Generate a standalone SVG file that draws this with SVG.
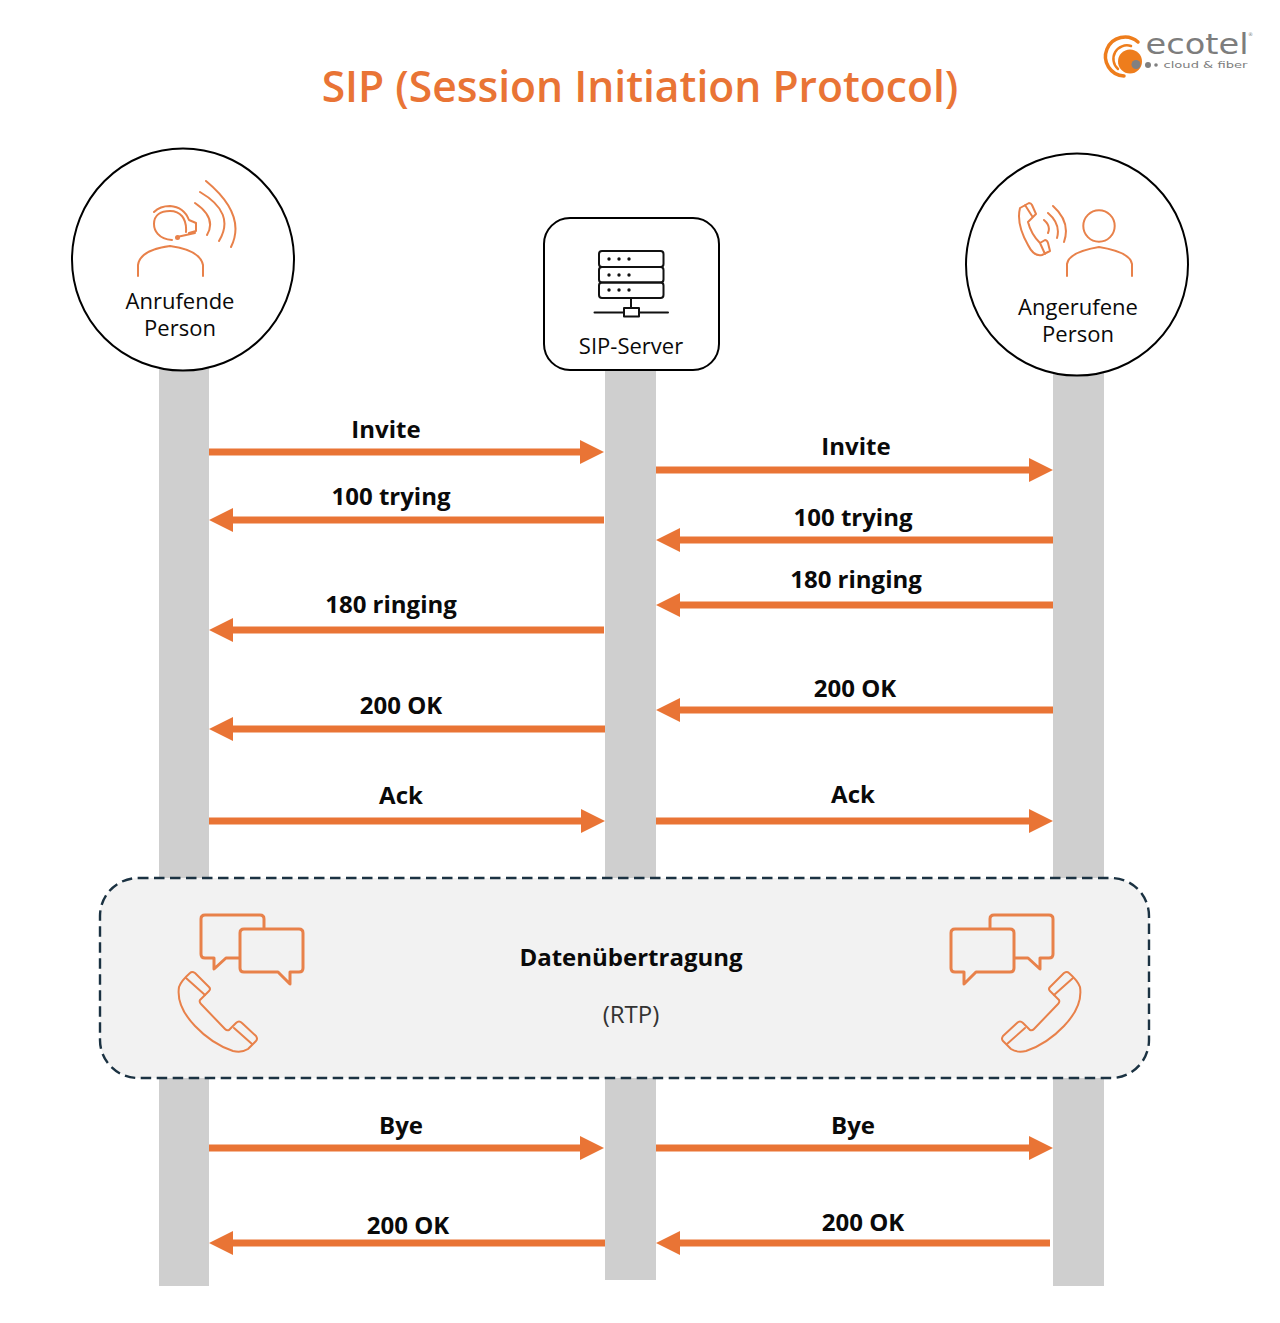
<svg xmlns="http://www.w3.org/2000/svg" width="1280" height="1323" viewBox="0 0 1280 1323">
<style>
text{font-family:"Open Sans","Liberation Sans",sans-serif;text-anchor:middle;fill:#0a0a0a}
.t{font-size:42.600px;font-weight:600;fill:#E97435}
.n{font-size:22px}
.l{font-size:24px;font-weight:700}
.life{fill:#CFCFCF}
.a{stroke:#E97435;stroke-width:7;fill:none}
.i{fill:none;stroke:#E8814A;stroke-width:2;stroke-linecap:round;stroke-linejoin:round}
.b{fill:none;stroke:#E8814A;stroke-width:3;stroke-linejoin:round}
.k{fill:none;stroke:#111;stroke-width:2;stroke-linecap:round;stroke-linejoin:round}
.o{fill:#fff;stroke:#000;stroke-width:2}
.g{font-family:"DejaVu Sans",sans-serif;fill:#7d7d7d}
.r{fill:none;stroke:#EE7D1C;stroke-linecap:round}
</style>
<defs>
<g id="phone"><path class="i" d="M190 973Q192 971 195 973L209 987Q211 989 209 991L200 1000Q199 1002 201 1004L225 1029Q227 1031 229 1030L236 1023Q239 1020 242 1023L256 1036Q258 1039 256 1041L248 1049Q242 1053 233 1051Q212 1044 195 1026Q176 1006 179 987Q181 981 190 973Z"/><path class="i" d="M186 978L205 995M234 1028L252 1044"/></g>
<g id="chat"><path class="b" d="M240 958H226L214 969V958H205Q201 958 201 954V919Q201 915 205 915H260Q264 915 264 919V929"/><path class="b" d="M244 929H299Q303 929 303 933V968Q303 972 299 972H290V984L278 972H244Q240 972 240 968V933Q240 929 244 929Z"/></g>
</defs>
<rect width="1280" height="1323" fill="#fff"/>
<text class="t" x="640" y="102">SIP (Session Initiation Protocol)</text>
<g id="logo">
<path class="r" stroke-width="3.500" d="M1138 42A19.500 19.500 0 1 0 1124 76"/>
<path class="r" stroke-width="2.500" d="M1131 46A13.500 13.500 0 0 0 1118 69"/>
<circle cx="1130" cy="61.500" r="12" fill="#EE7D1C"/>
<circle cx="1136" cy="64.500" r="4.500" fill="#808080"/><circle cx="1148" cy="65" r="3" fill="#808080"/><circle cx="1156" cy="65" r="1.800" fill="#808080"/>
<text class="g" x="1197" y="54" font-size="28" textLength="103" lengthAdjust="spacingAndGlyphs">ecotel</text>
<text class="g" x="1250.500" y="36" font-size="5">®</text>
<text class="g" x="1205.500" y="68" font-size="9.500" textLength="84" lengthAdjust="spacingAndGlyphs">cloud &amp; fiber</text>
</g>
<g id="lifelines">
<rect class="life" x="159" y="365" width="50" height="921"/>
<rect class="life" x="605" y="365" width="51" height="915"/>
<rect class="life" x="1053" y="370" width="51" height="916"/>
</g>
<g id="caller">
<circle class="o" cx="183" cy="259.500" r="111"/>
<path class="i" d="M138 276V265Q140 250 170 246Q200 250 203 265V276M172 240C158 239 154 230 154 224C154 215 161 211 170 211C180 211 187 218 186 232M154 212Q160 206 170 206Q184 207 189 220L196 223V231L189 233M195 233L177 237M195 203Q217 218 207 235M200 192Q236 213 219 241M206 181Q247 215 231 247"/>
<circle cx="177.500" cy="237.500" r="2.500" fill="#E8814A"/>
<text class="n" x="180" y="309">Anrufende</text><text class="n" x="180" y="336">Person</text>
</g>
<g id="server">
<rect class="o" x="544" y="218" width="175" height="152" rx="26"/>
<g class="k"><rect x="599" y="251" width="64.500" height="16" rx="3"/><rect x="599" y="267" width="64.500" height="15.500" rx="3"/><rect x="599" y="282.500" width="64.500" height="15.500" rx="3"/><path d="M631 298V308M594.500 312.500H624M639 312.500H668"/><rect x="624" y="308" width="15" height="8.500"/></g>
<g fill="#111"><circle cx="609" cy="259" r="1.700"/><circle cx="619" cy="259" r="1.700"/><circle cx="629" cy="259" r="1.700"/><circle cx="609" cy="275" r="1.700"/><circle cx="619" cy="275" r="1.700"/><circle cx="629" cy="275" r="1.700"/><circle cx="609" cy="290" r="1.700"/><circle cx="619" cy="290" r="1.700"/><circle cx="629" cy="290" r="1.700"/></g>
<text class="n" x="631" y="354">SIP-Server</text>
</g>
<g id="callee">
<circle class="o" cx="1077" cy="264.500" r="111"/>
<circle class="i" cx="1099" cy="226" r="15.700"/>
<path class="i" d="M1067 276V264Q1069 252 1099 247Q1130 252 1132 264V276M1020 208L1029 203Q1031 203 1032 205L1036 214L1028 222Q1031 234 1040 243L1045 240Q1047 240 1048 243L1050 251L1042 255Q1034 257 1028 245Q1016 224 1020 208ZM1044 220Q1051 226 1048 233M1048 213Q1061 224 1057 238M1053 206Q1071 222 1064 242M1025 205L1032 216M1040 243L1045 254"/>
<text class="n" x="1078" y="315">Angerufene</text><text class="n" x="1078" y="342">Person</text>
</g>
<g id="connectors">
<path class="a" d="M209 452H585"/><path class="a" d="M656 470H1034"/>
<path class="a" d="M604 520H228"/><path class="a" d="M1053 540H675"/>
<path class="a" d="M604 630H228"/><path class="a" d="M1053 605H675"/>
<path class="a" d="M605 729H228"/><path class="a" d="M1053 710H675"/>
<path class="a" d="M209 821H586"/><path class="a" d="M656 821H1034"/>
<path class="a" d="M209 1148H585"/><path class="a" d="M656 1148H1034"/>
<path class="a" d="M605 1243H228"/><path class="a" d="M1050 1243H675"/>
<g fill="#E97435">
<path d="M580 440L604 452L580 464Z"/><path d="M1029 458L1053 470L1029 482Z"/>
<path d="M233 508L209 520L233 532Z"/><path d="M680 528L656 540L680 552Z"/>
<path d="M233 618L209 630L233 642Z"/><path d="M680 593L656 605L680 617Z"/>
<path d="M233 717L209 729L233 741Z"/><path d="M680 698L656 710L680 722Z"/>
<path d="M581 809L605 821L581 833Z"/><path d="M1029 809L1053 821L1029 833Z"/>
<path d="M580 1136L604 1148L580 1160Z"/><path d="M1029 1136L1053 1148L1029 1160Z"/>
<path d="M233 1231L209 1243L233 1255Z"/><path d="M680 1231L656 1243L680 1255Z"/>
</g>
</g>
<g id="labels">
<text class="l" x="386" y="438">Invite</text><text class="l" x="856" y="455">Invite</text>
<text class="l" x="391" y="505">100 trying</text><text class="l" x="853" y="526">100 trying</text>
<text class="l" x="391" y="613">180 ringing</text><text class="l" x="856" y="588">180 ringing</text>
<text class="l" x="401" y="714">200 OK</text><text class="l" x="855" y="697">200 OK</text>
<text class="l" x="401" y="804">Ack</text><text class="l" x="853" y="803">Ack</text>
<text class="l" x="401" y="1134">Bye</text><text class="l" x="853" y="1134">Bye</text>
<text class="l" x="408" y="1234">200 OK</text><text class="l" x="863" y="1231">200 OK</text>
</g>
<g id="rtp">
<rect x="100" y="878" width="1049" height="200" rx="38" fill="#F2F2F2" stroke="#1B3242" stroke-width="2.400" stroke-dasharray="10.500 5.500"/>
<use href="#chat"/><use href="#phone"/>
<use href="#chat" transform="translate(1254 0) scale(-1 1)"/><use href="#phone" transform="translate(1259 0) scale(-1 1)"/>
<text class="l" x="631" y="966">Datenübertragung</text>
<text x="631" y="1023" style="font-size:24px;fill:#333">(RTP)</text>
</g>
</svg>
